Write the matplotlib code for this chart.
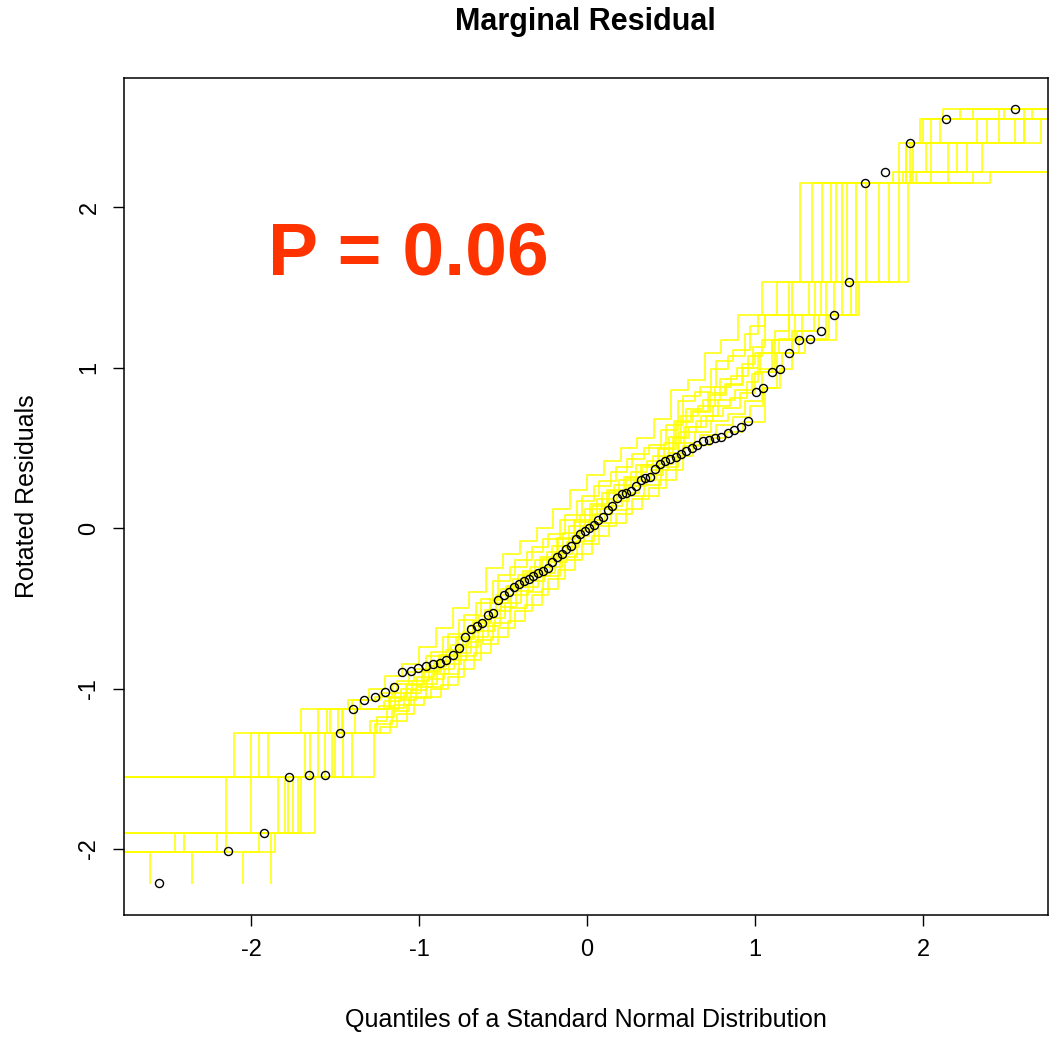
import statistics
import matplotlib
matplotlib.use('Agg')
import matplotlib.pyplot as plt

# sorted rotated residuals
resid = [-2.21, -2.01, -1.90, -1.55, -1.54, -1.54, -1.28, -1.13, -1.07, -1.05,
         -1.02, -0.99, -0.90, -0.89, -0.87, -0.86, -0.85, -0.84, -0.82, -0.79,
         -0.75, -0.68, -0.63, -0.61, -0.59, -0.54, -0.53, -0.45, -0.42, -0.40,
         -0.37, -0.35, -0.33, -0.32, -0.30, -0.28, -0.27, -0.25, -0.21, -0.18,
         -0.16, -0.13, -0.11, -0.07, -0.04, -0.02, 0.00, 0.02, 0.05, 0.07,
         0.11, 0.14, 0.19, 0.21, 0.22, 0.23, 0.26, 0.30, 0.31, 0.32,
         0.37, 0.40, 0.42, 0.43, 0.44, 0.46, 0.48, 0.50, 0.52, 0.54,
         0.55, 0.56, 0.57, 0.59, 0.61, 0.63, 0.67, 0.85, 0.87, 0.97,
         0.99, 1.09, 1.17, 1.18, 1.23, 1.33, 1.53, 2.15, 2.22, 2.40,
         2.55, 2.61]

# simulated envelope curves: x where each curve steps, y level it steps to
env_x = [
    [-1.88, -1.88, -1.72, -1.27, -1.17, -1.07, -0.97, -0.87, -0.77, -0.67, -0.57, -0.47,
     -0.37, -0.27, -0.17, -0.07, 0.03, 0.13, 0.23, 0.33, 0.43, 0.53, 0.63, 0.73, 0.83,
     0.93, 1.06, 1.15, 1.22, 1.48, 1.60, 1.91, 2.30, 2.75],
    [-2.9, -2.40, -1.80, -1.45, -1.23, -1.13, -1.03, -0.93, -0.83, -0.73, -0.63, -0.53,
     -0.43, -0.33, -0.23, -0.13, -0.03, 0.07, 0.17, 0.27, 0.37, 0.47, 0.57, 0.67, 0.77,
     0.87, 0.97, 1.05, 1.13, 1.30, 1.42, 1.57, 1.80, 2.15, 2.60],
    [-2.05, -2.05, -1.95, -1.62, -1.52, -1.29, -1.19, -1.09, -0.99, -0.89, -0.79, -0.69,
     -0.59, -0.49, -0.39, -0.29, -0.19, -0.09, 0.01, 0.11, 0.21, 0.31, 0.41, 0.51, 0.61,
     0.71, 0.81, 0.91, 1.00, 1.10, 1.22, 1.38, 1.52, 1.74, 1.96, 2.35, 2.70],
    [-2.60, -2.60, -2.20, -1.78, -1.56, -1.25, -1.15, -1.05, -0.95, -0.85, -0.75, -0.65,
     -0.55, -0.45, -0.35, -0.25, -0.15, -0.05, 0.05, 0.15, 0.25, 0.35, 0.45, 0.55, 0.65,
     0.75, 0.85, 0.95, 1.02, 1.12, 1.25, 1.35, 1.47, 1.66, 2.05, 2.45],
    [-2.9, -1.75, -1.60, -1.46, -1.12, -1.02, -0.92, -0.82, -0.72, -0.62, -0.52, -0.42,
     -0.32, -0.22, -0.12, -0.02, 0.08, 0.18, 0.28, 0.38, 0.48, 0.58, 0.68, 0.78, 0.88,
     0.98, 1.03, 1.14, 1.28, 1.42, 1.60, 1.93, 2.20, 2.55],
    [-2.35, -2.35, -1.86, -1.70, -1.50, -1.38, -1.18, -1.08, -0.98, -0.88, -0.78, -0.68,
     -0.58, -0.48, -0.38, -0.28, -0.18, -0.08, 0.02, 0.12, 0.22, 0.32, 0.42, 0.52, 0.62,
     0.72, 0.82, 0.92, 1.00, 1.10, 1.20, 1.36, 1.55, 1.90, 2.32, 2.80],
    [-2.9, -1.90, -1.53, -1.24, -1.14, -1.04, -0.94, -0.84, -0.74, -0.64, -0.54, -0.44,
     -0.34, -0.24, -0.14, -0.04, 0.06, 0.16, 0.26, 0.36, 0.46, 0.56, 0.66, 0.76, 0.86,
     0.96, 1.04, 1.12, 1.20, 1.32, 1.48, 1.94, 2.10, 2.48],
    [-2.9, -2.00, -1.65, -1.48, -1.21, -1.11, -1.01, -0.91, -0.81, -0.71, -0.61, -0.51,
     -0.41, -0.31, -0.21, -0.11, -0.01, 0.09, 0.19, 0.29, 0.39, 0.49, 0.59, 0.69, 0.79,
     0.89, 0.99, 1.06, 1.20, 1.40, 1.88, 2.02, 2.38, 2.65],
    [-2.9, -1.95, -1.55, -1.35, -1.26, -1.16, -1.06, -0.96, -0.86, -0.76, -0.66, -0.56,
     -0.46, -0.36, -0.26, -0.16, -0.06, 0.04, 0.14, 0.24, 0.34, 0.44, 0.54, 0.64, 0.74,
     0.84, 0.94, 1.02, 1.13, 1.34, 1.92, 2.00, 2.22],
    [-2.9, -2.00, -1.60, -1.40, -1.30, -1.20, -1.10, -1.00, -0.90, -0.80, -0.70, -0.60,
     -0.50, -0.40, -0.30, -0.20, -0.10, 0.00, 0.10, 0.20, 0.30, 0.40, 0.50, 0.60, 0.70,
     0.80, 0.90, 1.04, 1.27, 1.86, 1.98, 2.12],
    [-2.80, -2.80, -2.45, -1.84, -1.40, -1.26, -1.16, -1.06, -0.96, -0.86, -0.76, -0.66,
     -0.56, -0.46, -0.36, -0.26, -0.16, -0.06, 0.04, 0.14, 0.24, 0.34, 0.44, 0.54, 0.64,
     0.74, 0.84, 0.94, 1.04, 1.16, 1.26, 1.44, 1.62, 1.86, 2.40],
    [-2.9, -2.15, -1.68, -1.45, -1.17, -1.07, -0.97, -0.87, -0.77, -0.67, -0.57, -0.47,
     -0.37, -0.27, -0.17, -0.07, 0.03, 0.13, 0.23, 0.33, 0.43, 0.53, 0.63, 0.73, 0.83,
     0.93, 1.02, 1.10, 1.24, 1.39, 1.52, 1.82, 2.26, 2.60],
    [-2.9, -2.10, -1.70, -1.42, -1.23, -1.13, -1.03, -0.93, -0.83, -0.73, -0.63, -0.53,
     -0.43, -0.33, -0.23, -0.13, -0.03, 0.07, 0.17, 0.27, 0.37, 0.47, 0.57, 0.67, 0.77,
     0.87, 0.97, 1.06, 1.22, 1.45, 1.90, 2.05, 2.30],
]
env_y = [
    [-2.21, -1.90, -1.55, -1.28, -1.20, -1.10, -1.05, -0.98, -0.88, -0.78, -0.68, -0.58,
     -0.48, -0.38, -0.26, -0.16, -0.05, 0.03, 0.12, 0.20, 0.30, 0.45, 0.52, 0.56, 0.60,
     0.66, 0.87, 0.99, 1.17, 1.33, 1.53, 2.15, 2.22, 2.40],
    [-2.02, -1.90, -1.55, -1.28, -1.24, -1.16, -1.06, -1.00, -0.93, -0.82, -0.72, -0.62,
     -0.52, -0.42, -0.32, -0.20, -0.10, 0.01, 0.09, 0.18, 0.25, 0.36, 0.51, 0.58, 0.64,
     0.69, 0.76, 0.87, 1.09, 1.17, 1.33, 1.53, 2.15, 2.40, 2.55],
    [-2.21, -2.02, -1.90, -1.55, -1.28, -1.20, -1.12, -1.03, -0.97, -0.88, -0.78, -0.68,
     -0.56, -0.47, -0.37, -0.28, -0.16, -0.05, 0.05, 0.14, 0.22, 0.30, 0.40, 0.56, 0.63,
     0.70, 0.75, 0.84, 0.97, 1.09, 1.23, 1.33, 1.53, 2.15, 2.22, 2.40, 2.55],
    [-2.21, -2.02, -1.90, -1.55, -1.28, -1.18, -1.10, -1.01, -0.94, -0.85, -0.74, -0.64,
     -0.52, -0.42, -0.33, -0.24, -0.12, -0.01, 0.09, 0.17, 0.26, 0.33, 0.44, 0.60, 0.67,
     0.76, 0.81, 0.91, 0.99, 1.17, 1.23, 1.33, 1.53, 2.15, 2.40, 2.61],
    [-1.90, -1.55, -1.28, -1.13, -1.07, -0.99, -0.91, -0.82, -0.71, -0.61, -0.49, -0.39,
     -0.30, -0.21, -0.09, 0.02, 0.12, 0.21, 0.29, 0.36, 0.47, 0.63, 0.70, 0.80, 0.86,
     0.96, 1.09, 1.18, 1.33, 1.53, 2.15, 2.22, 2.40, 2.55],
    [-2.21, -2.02, -1.90, -1.55, -1.28, -1.13, -1.05, -0.97, -0.89, -0.79, -0.68, -0.58,
     -0.45, -0.36, -0.27, -0.18, -0.06, 0.05, 0.15, 0.24, 0.32, 0.39, 0.50, 0.67, 0.73,
     0.84, 0.90, 1.02, 1.09, 1.17, 1.33, 1.53, 2.15, 2.40, 2.55, 2.61],
    [-1.55, -1.28, -1.13, -1.11, -1.03, -0.95, -0.86, -0.76, -0.65, -0.55, -0.42, -0.32,
     -0.24, -0.15, -0.03, 0.08, 0.18, 0.27, 0.35, 0.42, 0.53, 0.70, 0.76, 0.88, 0.95,
     1.07, 1.17, 1.23, 1.33, 1.53, 2.15, 2.40, 2.55, 2.61],
    [-1.90, -1.55, -1.28, -1.13, -1.08, -1.00, -0.93, -0.83, -0.73, -0.61, -0.51, -0.38,
     -0.29, -0.20, -0.11, 0.01, 0.12, 0.22, 0.30, 0.39, 0.45, 0.57, 0.74, 0.80, 0.93,
     1.00, 1.13, 1.33, 1.53, 2.15, 2.22, 2.40, 2.55, 2.61],
    [-1.55, -1.28, -1.13, -1.07, -1.05, -0.97, -0.90, -0.80, -0.68, -0.57, -0.47, -0.33,
     -0.24, -0.15, -0.07, 0.05, 0.17, 0.26, 0.35, 0.43, 0.50, 0.61, 0.79, 0.85, 0.99,
     1.07, 1.21, 1.33, 1.53, 2.15, 2.40, 2.55, 2.61],
    [-1.55, -1.28, -1.13, -1.07, -1.00, -0.92, -0.85, -0.74, -0.62, -0.50, -0.40, -0.25,
     -0.16, -0.08, 0.00, 0.12, 0.24, 0.33, 0.42, 0.50, 0.56, 0.68, 0.86, 0.92, 1.09,
     1.17, 1.33, 1.53, 2.15, 2.40, 2.55, 2.61],
    [-2.21, -2.02, -1.90, -1.55, -1.28, -1.22, -1.14, -1.05, -0.99, -0.91, -0.80, -0.70,
     -0.59, -0.50, -0.40, -0.30, -0.18, -0.08, 0.03, 0.11, 0.20, 0.27, 0.38, 0.53, 0.60,
     0.67, 0.71, 0.79, 0.97, 1.09, 1.18, 1.33, 1.53, 2.15, 2.22],
    [-2.02, -1.55, -1.28, -1.13, -1.06, -0.98, -0.90, -0.80, -0.69, -0.59, -0.47, -0.37,
     -0.28, -0.19, -0.07, 0.04, 0.14, 0.23, 0.31, 0.38, 0.49, 0.66, 0.72, 0.83, 0.89,
     1.00, 1.09, 1.17, 1.33, 1.53, 2.15, 2.22, 2.40, 2.61],
    [-1.55, -1.28, -1.13, -1.07, -1.03, -0.95, -0.88, -0.77, -0.66, -0.54, -0.44, -0.29,
     -0.20, -0.12, -0.04, 0.08, 0.20, 0.29, 0.38, 0.46, 0.52, 0.64, 0.82, 0.88, 1.04,
     1.11, 1.26, 1.33, 1.53, 2.15, 2.40, 2.55, 2.61],
]

ticks = [-2, -1, 0, 1, 2]

# theoretical quantiles, as qqnorm does (ppoints)
n = len(resid)
nd = statistics.NormalDist()
theo = [nd.inv_cdf((i + 0.5) / n) for i in range(n)]

plt.rcParams['font.family'] = ['Liberation Sans', 'DejaVu Sans']
plt.rcParams['axes.unicode_minus'] = False

fig = plt.figure(figsize=(10.57, 10.37), dpi=100)
ax = fig.add_axes([124 / 1057, 1 - 915 / 1037, 924 / 1057, 837 / 1037])

for xs, ys in zip(env_x, env_y):
    ax.plot(xs + [3.0], ys + [ys[-1]], drawstyle='steps-post',
            color='#ffff00', lw=1.4, alpha=0.8, zorder=1)

ax.plot(theo, resid, 'o', mfc='none', mec='black', ms=5.8, mew=1.0, zorder=3)

ax.set_xlim(-2.756, 2.744)
ax.set_ylim(-2.411, 2.804)
ax.set_xticks(ticks)
ax.set_yticks(ticks)
ax.tick_params(direction='out', length=8, width=1, labelsize=17, pad=9)
for lab in ax.get_yticklabels():
    lab.set_rotation(90)
    lab.set_va('center')
for s in ax.spines.values():
    s.set_linewidth(1.1)

ax.set_xlabel('Quantiles of a Standard Normal Distribution', fontsize=18, va='center')
ax.set_ylabel('Rotated Residuals', fontsize=18, va='center')
ax.xaxis.set_label_coords(0.5, (915 - 1020) / 837)
ax.yaxis.set_label_coords((27 - 124) / 924, 0.5)

fig.text(585 / 1057, 1 - 22 / 1037, 'Marginal Residual', ha='center', va='center',
         fontsize=22, fontweight='bold')
ax.text(-1.90, 1.70, 'P = 0.06', color='#ff3300', fontsize=54,
        fontweight='bold', ha='left', va='center')

fig.savefig('out.png', dpi=100)
